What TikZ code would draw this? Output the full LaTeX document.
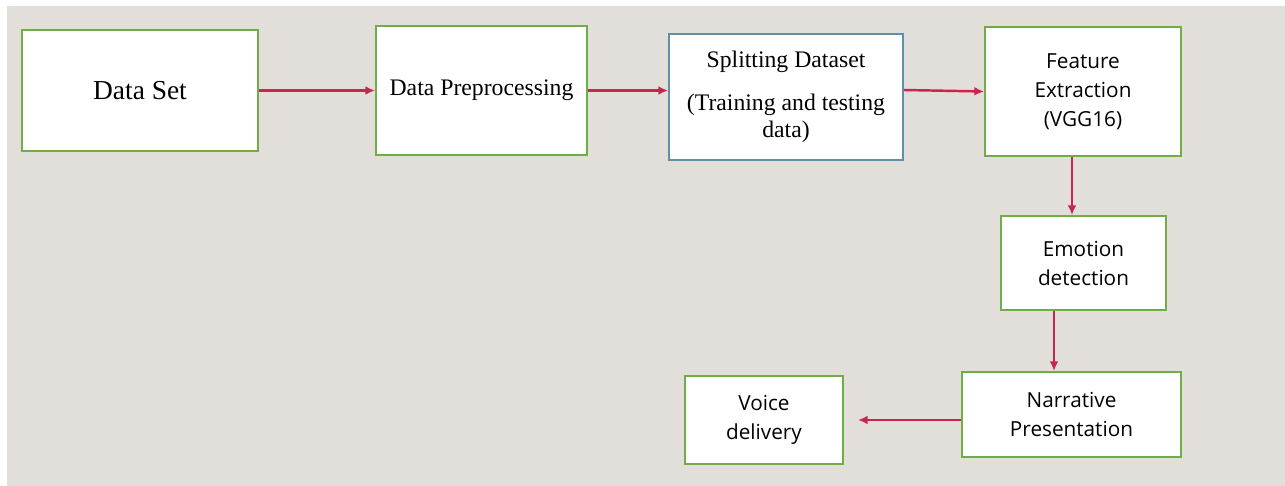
\documentclass[tikz,border=0pt]{standalone}
\usepackage{fontspec}
\setmainfont{Liberation Serif}
\newfontfamily\boxsans{Open Sans}
\usepackage{tikz}
\usetikzlibrary{arrows.meta,calc}
\definecolor{VerdeCaja}{RGB}{112,173,71}
\definecolor{AzulCaja}{RGB}{96,143,168}
\definecolor{RojoFlecha}{RGB}{200,38,78}
\definecolor{FondoGris}{RGB}{226,223,219}

\begin{document}
\begin{tikzpicture}[x=0.02cm,y=-0.02cm,>={Latex[length=5.5pt,width=5pt]},
  caja/.style={draw=VerdeCaja,line width=1.1pt,fill=white,inner sep=0pt,align=center},
  serifa/.style={font=\fontsize{13.5}{15.4}\selectfont},
  sans/.style={font=\boxsans\fontsize{11.8}{16.5}\selectfont},
  flujo/.style={->,line width=1.4pt,RojoFlecha}]
  % fondo
  \fill[white] (0,0) rectangle (1285,486);
  \fill[FondoGris] (7,6) rectangle (1285,486);

  \node[caja,minimum width=4.72cm,minimum height=2.42cm,font=\fontsize{15.6}{18}\selectfont]
    (dataset) at (140,90.5) {Data Set};
  \node[caja,serifa,minimum width=4.22cm,minimum height=2.58cm] (preproc) at (481.5,90.5) {Data Preprocessing};
  \node[caja,serifa,draw=AzulCaja,minimum width=4.68cm,minimum height=2.52cm]
    (split) at (786,97) {Splitting Dataset\\[9pt](Training and testing\\data)};
  \node[caja,sans,minimum width=3.92cm,minimum height=2.58cm] (feat) at (1083,91.5) {Feature\\Extraction\\(VGG16)};
  \node[caja,sans,minimum width=3.3cm,minimum height=1.88cm] (emo) at (1083.5,263) {Emotion\\detection};
  \node[caja,sans,minimum width=4.38cm,minimum height=1.7cm] (narr) at (1071.5,414.5) {Narrative\\Presentation};
  \node[caja,sans,minimum width=3.16cm,minimum height=1.76cm] (voice) at (764,420) {Voice\\delivery};

  \draw[flujo] (dataset.east) -- (dataset.east -| preproc.west);
  \draw[flujo] (preproc.east) -- (preproc.east -| split.west);
  \draw[flujo] ([yshift=0.14cm]split.east) -- (feat.west);
  \draw[flujo] ([xshift=-0.22cm]feat.south) -- ([xshift=-0.22cm]feat.south |- emo.north);
  \draw[flujo] ([xshift=-0.59cm]emo.south) -- ([xshift=-0.59cm]emo.south |- narr.north);
  \draw[flujo,shorten >=0.28cm] (narr.west |- voice.east) -- (voice.east);
\end{tikzpicture}
\end{document}
